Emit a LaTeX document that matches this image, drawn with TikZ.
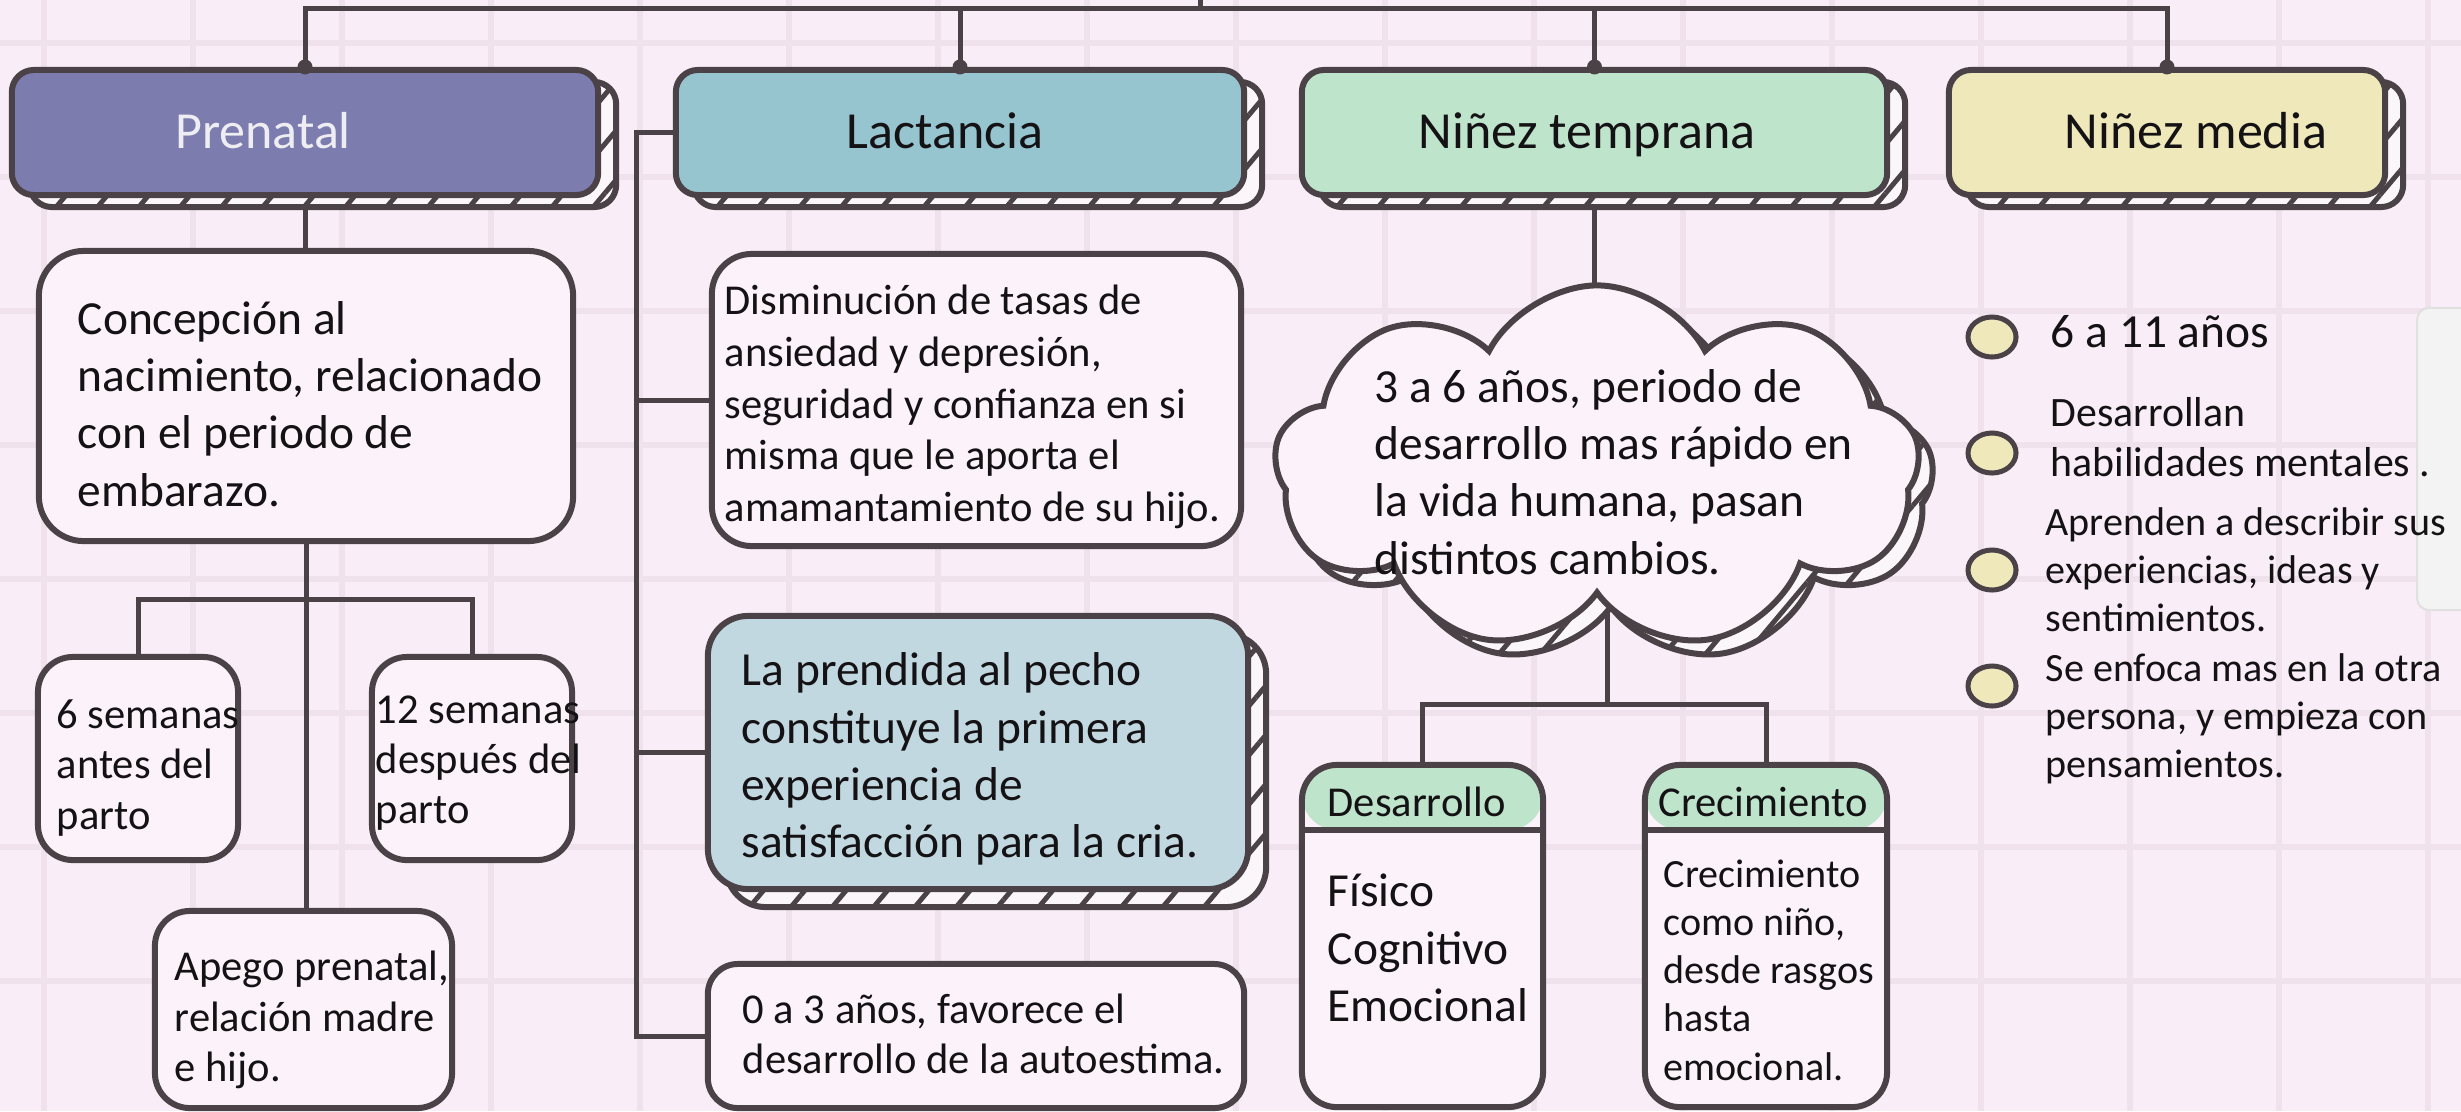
\documentclass[tikz,border=0pt]{standalone}
\usepackage{fontspec}
\setmainfont{Carlito}
\usetikzlibrary{positioning,shapes.symbols,shapes.geometric,patterns.meta,backgrounds}

\definecolor{paper}{HTML}{F9EEF7}
\definecolor{gridc}{HTML}{EFE2EC}
\definecolor{ink}{HTML}{4A4247}
\definecolor{inkt}{HTML}{141214}
\definecolor{boxw}{HTML}{FCF3FA}
\definecolor{hatchbg}{HTML}{FBF6FA}
\definecolor{cpren}{HTML}{7D7CAF}
\definecolor{clact}{HTML}{96C4CF}
\definecolor{cntem}{HTML}{BFE4CC}
\definecolor{cnmed}{HTML}{EFE8BB}
\definecolor{cprend}{HTML}{C2D8E0}
\definecolor{prentxt}{HTML}{EEEEF2}
\definecolor{panelc}{HTML}{F3F3F3}
\definecolor{panelb}{HTML}{E0E0E0}

\newcommand{\fH}{\fontsize{14.8}{17.8}\selectfont}
\newcommand{\fL}{\fontsize{13.5}{16.3}\selectfont}
\newcommand{\fS}{\fontsize{12.1}{14.3}\selectfont}
\newcommand{\fXS}{\fontsize{11.4}{13.7}\selectfont}

\tikzset{
  hatch/.style={
    preaction={draw=ink, line width=0.06cm, fill=hatchbg,
      transform canvas={shift={(#1)}}},
    preaction={pattern={Lines[angle=50,distance=9pt,line width=1.4pt]},
      pattern color=ink, transform canvas={shift={(#1)}}}},
  hatch/.default={18,12},
  head/.style={draw=ink, line width=0.06cm, rounded corners=0.22cm,
    minimum height=1.25cm, inner sep=0pt, hatch},
  card/.style={draw=ink, line width=0.06cm, fill=boxw, inner sep=0pt},
  link/.style={draw=ink, line width=0.05cm},
  txt/.style={inner sep=0pt, align=left, anchor=west, text=inkt},
  htxt/.style={inner sep=0pt, anchor=base, font=\fH, text=inkt},
  blt/.style={ellipse, draw=ink, line width=0.05cm, fill=cnmed,
    minimum width=0.48cm, minimum height=0.40cm, inner sep=0pt},
  band/.style={path picture={
    \fill[cntem] (path picture bounding box.north west) rectangle
      ([yshift=-0.65cm]path picture bounding box.north east);
    \draw[ink, line width=0.06cm]
      ([yshift=-0.65cm]path picture bounding box.north west) --
      ([yshift=-0.65cm]path picture bounding box.north east);}}
}

\begin{document}
\begin{tikzpicture}[x=0.01cm, y=-0.01cm]
\useasboundingbox (0,0) rectangle (2461,1111);
\begin{scope}[on background layer]
\fill[paper] (0,0) rectangle (2461,1111);
\foreach \gx in {0,...,16}
  \draw[gridc, line width=0.06cm] ({44+149*\gx},0) -- ({44+149*\gx},1111);
\foreach \gy in {0,...,7}
  \draw[gridc, line width=0.06cm] (0,{43+134*\gy}) -- (2461,{43+134*\gy});
\end{scope}
\clip (0,0) rectangle (2461,1111);
\node[draw=panelb, fill=panelc, line width=0.02cm, rounded corners=0.12cm,
  minimum width=0.9cm, minimum height=3.02cm, inner sep=0pt] (panel) at (2462,459) {};

% stages
\node[head, fill=cpren, minimum width=5.86cm] (pren) at (305,132.5) {};
\node[head, fill=clact, minimum width=5.68cm] (lact) at (960,132.5) {};
\node[head, fill=cntem, minimum width=5.85cm] (ntem) at (1594.5,132.5) {};
\node[head, fill=cnmed, minimum width=4.36cm] (nmed) at (2167,132.5) {};
\node[htxt, text=prentxt] (prenL) at (263,148) {Prenatal};
\node[htxt] (lactL) at (945,148) {Lactancia};
\node[htxt] (ntemL) at (1587,148) {Niñez temprana};
\node[htxt] (nmedL) at (2196,148) {Niñez media};

% prenatal
\node[card, rounded corners=0.45cm, minimum width=5.34cm, minimum height=2.90cm] (concep) at (306,396) {};
\node[card, rounded corners=0.35cm, minimum width=2.00cm, minimum height=2.03cm] (sem6) at (138,758.5) {};
\node[card, rounded corners=0.35cm, minimum width=2.00cm, minimum height=2.03cm] (sem12) at (472,758.5) {};
\node[card, rounded corners=0.35cm, minimum width=2.97cm, minimum height=1.97cm] (apego) at (303.5,1009.5) {};
\node[txt, font=\fL] (concepT) at (77,404) {Concepción al\\nacimiento, relacionado\\con el periodo de\\embarazo.};
\node[txt, font=\fS] (sem6T) at (56,768) {6 semanas\\antes del\\parto};
\node[txt, font=\fS] (sem12T) at (375,763) {12 semanas\\después del\\parto};
\node[txt, font=\fS] (apegoT) at (174,1020) {Apego prenatal,\\relación madre\\e hijo.};

% lactancia
\node[card, rounded corners=0.4cm, minimum width=5.29cm, minimum height=2.92cm] (dism) at (976.5,400) {};
\node[card, fill=cprend, rounded corners=0.4cm, minimum width=5.40cm, minimum height=2.73cm, hatch={18,18}] (prend) at (978,752.5) {};
\node[card, rounded corners=0.3cm, minimum width=5.36cm, minimum height=1.44cm] (zero) at (976,1036) {};
\node[txt, font=\fontsize{12.1}{14.7}\selectfont] (dismT) at (724,407) {Disminución de tasas de\\ansiedad y depresión,\\seguridad y confianza en si\\misma que le aporta el\\amamantamiento de su hijo.};
\node[txt, font=\fL] (prendT) at (741,759) {La prendida al pecho\\constituye la primera\\experiencia de\\satisfacción para la cria.};
\node[txt, font=\fS] (zeroT) at (742,1034) {0 a 3 años, favorece el\\desarrollo de la autoestima.};

% niñez temprana
\node[cloud, cloud puffs=9, cloud puff arc=125, cloud ignores aspect, draw=ink, line width=0.06cm, fill=boxw,
  minimum width=6.45cm, minimum height=3.65cm, inner sep=0pt, hatch={14,14}] (nube) at (1597,468) {};
\node[txt, font=\fL] (nubeT) at (1374,472) {3 a 6 años, periodo de\\desarrollo mas rápido en\\la vida humana, pasan\\distintos cambios.};
\node[card, band, rounded corners=0.35cm, minimum width=2.41cm, minimum height=3.42cm] (des) at (1422.5,936) {};
\node[card, band, rounded corners=0.35cm, minimum width=2.42cm, minimum height=3.42cm] (crec) at (1766,936) {};
\node[txt, font=\fS] (desH) at (1327,802) {Desarrollo};
\node[txt, font=\fS] (crecH) at (1658,802) {Crecimiento};
\node[txt, font=\fL] (desT) at (1327,948) {Físico\\Cognitivo\\Emocional};
\node[txt, font=\fXS] (crecT) at (1663,970) {Crecimiento\\como niño,\\desde rasgos\\hasta\\emocional.};

% niñez media
\node[blt] (b1) at (1992,337) {};
\node[blt] (b2) at (1992,453) {};
\node[blt] (b3) at (1992,570) {};
\node[blt] (b4) at (1992,686) {};
\node[txt, font=\fL] (b1T) at (2050,332) {6 a 11 años};
\node[txt, font=\fontsize{11.9}{14.1}\selectfont] (b2T) at (2050,437) {Desarrollan\\habilidades mentales .};
\node[txt, font=\fXS] (b3T) at (2045,570) {Aprenden a describir sus\\experiencias, ideas y\\sentimientos.};
\node[txt, font=\fXS] (b4T) at (2045,719) {Se enfoca mas en la otra\\persona, y empieza con\\pensamientos.};

\begin{scope}[on background layer]
\coordinate (rootin) at (1200,0);
\coordinate (topbar) at (1200,8);
\coordinate (pbar) at (305,599);
\coordinate (lspine) at (636,132.5);
\coordinate (cbar) at (1607,704);
\draw[link] (rootin) -- (topbar);
\draw[link] (pren.north) |- (topbar) -| (nmed.north);
\draw[link] (lact.north) -- (lact.north |- topbar);
\draw[link] (ntem.north) -- (ntem.north |- topbar);
\draw[link] (pren.south) -- (pren.south |- concep.north);
\draw[link] (concep.south) -- (concep.south |- apego.north);
\draw[link] (sem6.north) |- (pbar) -| (sem12.north);
\draw[link] (lact.west) -- (lspine) -- (lspine |- zero.west) -- (zero.west);
\draw[link] (lspine |- dism.west) -- (dism.west);
\draw[link] (lspine |- prend.west) -- (prend.west);
\draw[link] (ntem.south) -- (ntem.south |- nube.center);
\draw[link] (cbar |- nube.center) -- (cbar);
\draw[link] (des.north) |- (cbar) -| (crec.north);
\end{scope}
\foreach \h in {pren,lact,ntem,nmed}
  \fill[ink] (\h.north) circle (0.075cm);
\end{tikzpicture}
\end{document}
